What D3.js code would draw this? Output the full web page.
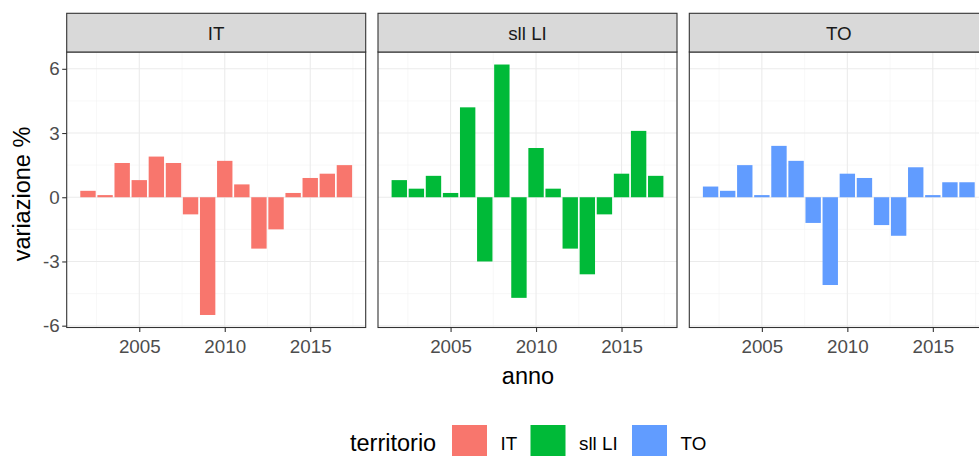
<!DOCTYPE html>
<meta charset="utf-8">
<style>
	body{ margin:0; background:#fff; overflow:hidden; }
	text{ font-family:"Liberation Sans", Arial, sans-serif; }
	.grid-major{ stroke:#ebebeb; stroke-width:1.1; }
	.grid-minor{ stroke:#f2f2f2; stroke-width:0.55; }
	.tick-lab{ fill:#4d4d4d; font-size:18.8px; }
</style>
<body>
<svg width="979" height="456" id="chart"></svg>
<script src="https://cdn.jsdelivr.net/npm/d3@7"></script>
<script>
	// data
	var anni = d3.range(2002, 2018);
	var territori = ["IT", "sll LI", "TO"];
	var valIT  = [0.3, 0.1, 1.6, 0.8, 1.9, 1.6, -0.8, -5.5, 1.7, 0.6, -2.4, -1.5, 0.2, 0.9, 1.1, 1.5];
	var valLI  = [0.8, 0.4, 1.0, 0.2, 4.2, -3.0, 6.2, -4.7, 2.3, 0.4, -2.4, -3.6, -0.8, 1.1, 3.1, 1.0];
	var valTO  = [0.5, 0.3, 1.5, 0.1, 2.4, 1.7, -1.2, -4.1, 1.1, 0.9, -1.3, -1.8, 1.4, 0.1, 0.7, 0.7];
	var xTicks = [2005, 2010, 2015];
	var yTicks = [-6, -3, 0, 3, 6];
	var colori = ["#F8766D", "#00BA38", "#619CFF"];

	var serie = [valIT, valLI, valTO];

	var svg = d3.select("#chart");
	var panelW = 299, gap = 12.3, left0 = 66.7;
	var pTop = 52, pBottom = 327.5, stripTop = 13.3;

	// ggplot-ish expansion of the continuous scales
	var xmin = d3.min(anni) - 0.45, xmax = d3.max(anni) + 0.45;
	var xpad = (xmax - xmin) * 0.05;
	var allv = valIT.concat(valLI, valTO, [0]);
	var ymin = d3.min(allv), ymax = d3.max(allv);
	var ypad = (ymax - ymin) * 0.05;

	var y = d3.scaleLinear().domain([ymin - ypad, ymax + ypad]).range([pBottom, pTop]);

	territori.forEach(function(t, i){
		var x0 = left0 + i * (panelW + gap);
		var x = d3.scaleLinear().domain([xmin - xpad, xmax + xpad]).range([x0, x0 + panelW]);
		var g = svg.append("g");

		// minor grid
		[2002.5, 2007.5, 2012.5, 2017.5].forEach(function(v){
			g.append("line").attr("class","grid-minor")
				.attr("x1", x(v)).attr("x2", x(v)).attr("y1", pTop).attr("y2", pBottom);
		});
		[-4.5, -1.5, 1.5, 4.5].forEach(function(v){
			g.append("line").attr("class","grid-minor")
				.attr("x1", x0).attr("x2", x0 + panelW).attr("y1", y(v)).attr("y2", y(v));
		});
		// major grid
		xTicks.forEach(function(v){
			g.append("line").attr("class","grid-major")
				.attr("x1", x(v)).attr("x2", x(v)).attr("y1", pTop).attr("y2", pBottom);
		});
		yTicks.forEach(function(v){
			g.append("line").attr("class","grid-major")
				.attr("x1", x0).attr("x2", x0 + panelW).attr("y1", y(v)).attr("y2", y(v));
		});

		// bars
		g.selectAll("rect.bar").data(serie[i]).enter().append("rect")
			.attr("class","bar")
			.attr("x", function(d, j){ return x(anni[j] - 0.45); })
			.attr("width", function(d, j){ return x(anni[j] + 0.45) - x(anni[j] - 0.45); })
			.attr("y", function(d){ return y(Math.max(0, d)); })
			.attr("height", function(d){ return Math.abs(y(d) - y(0)); })
			.attr("fill", colori[i]);

		// panel border
		g.append("rect").attr("x", x0).attr("y", pTop).attr("width", panelW).attr("height", pBottom - pTop)
			.attr("fill","none").attr("stroke","#333").attr("stroke-width",1.1);

		// strip
		g.append("rect").attr("x", x0).attr("y", stripTop).attr("width", panelW).attr("height", pTop - stripTop)
			.attr("fill","#d9d9d9").attr("stroke","#333").attr("stroke-width",1.1);
		g.append("text").attr("x", x0 + panelW / 2).attr("y", 39.5)
			.attr("text-anchor","middle").attr("font-size", 18.8).attr("fill","#1a1a1a").text(t);

		// x axis
		var xa = g.append("g").attr("transform", "translate(0," + pBottom + ")")
			.call(d3.axisBottom(x).tickValues(xTicks).tickFormat(d3.format("d")).tickSize(4.5).tickPadding(8));
		xa.select(".domain").remove();
		xa.selectAll("line").attr("stroke","#333").attr("stroke-width",1.1);
		xa.selectAll("text").attr("class","tick-lab").attr("font-size",null).attr("font-family",null);

		if(i === 0){
			var ya = g.append("g").attr("transform", "translate(" + x0 + ",0)")
				.call(d3.axisLeft(y).tickValues(yTicks).tickFormat(function(d){ return String(d); })
					.tickSize(4.5).tickPadding(2.5));
			ya.select(".domain").remove();
			ya.selectAll("line").attr("stroke","#333").attr("stroke-width",1.1);
			ya.selectAll("text").attr("class","tick-lab").attr("font-size",null).attr("font-family",null);
		}
	});

	// axis titles
	svg.append("text").attr("x", 528).attr("y", 383.5).attr("text-anchor","middle")
		.attr("font-size", 23.5).attr("fill","#000").text("anno");
	svg.append("text").attr("transform","translate(30,194) rotate(-90)")
		.attr("text-anchor","middle").attr("font-size", 23.5).attr("fill","#000").text("variazione %");

	// legend
	var leg = svg.append("g");
	leg.append("text").attr("x", 350).attr("y", 451).attr("font-size", 23.5).attr("fill","#000").text("territorio");
	var keyX = [452, 530.5, 632];
	territori.forEach(function(t, i){
		leg.append("rect").attr("x", keyX[i]).attr("y", 425).attr("width", 35).attr("height", 35)
			.attr("fill", colori[i]);
		leg.append("text").attr("x", keyX[i] + 48.5).attr("y", 450).attr("font-size", 18.8).attr("fill","#000").text(t);
	});
</script>
</body>
